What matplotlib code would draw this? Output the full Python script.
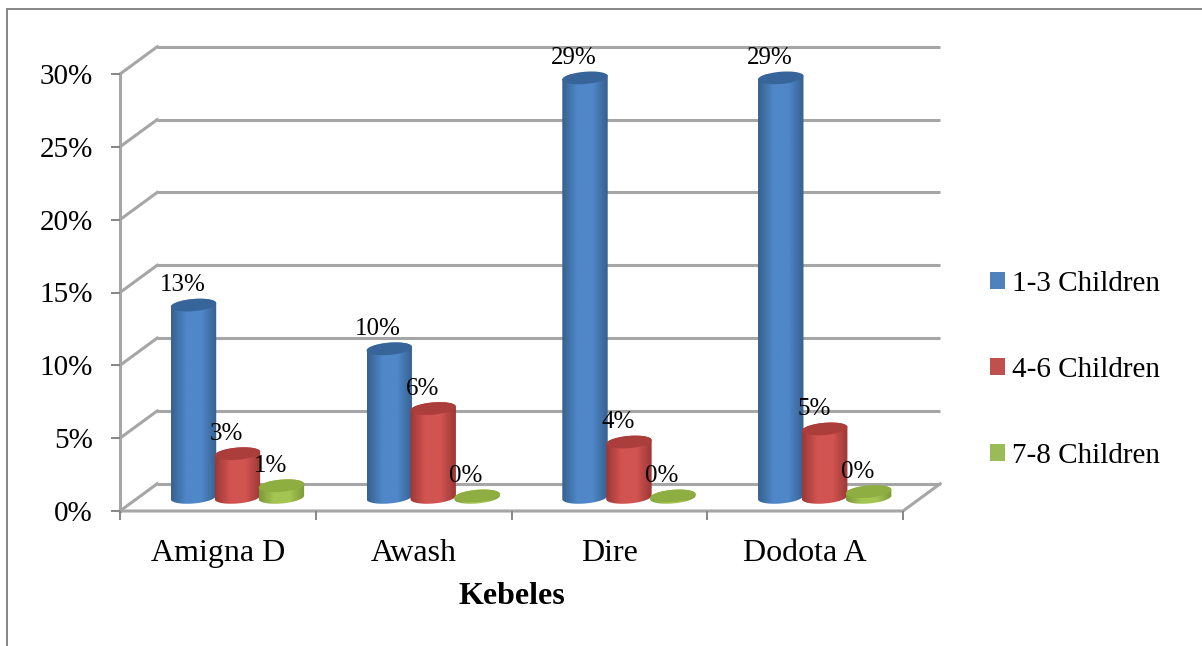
import numpy as np
import matplotlib
matplotlib.use("Agg")
import matplotlib.pyplot as plt
from matplotlib.colors import LinearSegmentedColormap
from matplotlib.patches import Patch, Polygon, Rectangle

plt.rcParams['font.family'] = ['Liberation Serif', 'DejaVu Serif']

categories = ['Amigna D', 'Awash', 'Dire', 'Dodota A']
series_names = ['1-3 Children', '4-6 Children', '7-8 Children']
children_1_3 = [13.2, 10.2, 28.8, 28.8]
children_4_6 = [3.0, 6.1, 3.8, 4.7]
children_7_8 = [0.8, 0.1, 0.1, 0.4]
y_ticks = [0, 5, 10, 15, 20, 25, 30]

# edge shade, middle shade, top cap, legend swatch
colors = [('#37618f', '#4f87c9', '#37659a', '#4f81bd'),
          ('#9c3836', '#d25451', '#ab3d3a', '#c0504d'),
          ('#7d9a38', '#a5c552', '#8fae42', '#9bbb59')]

W, H = 1202, 646
GRID = '#a6a6a6'

# 3D look: how far the back wall sits from the front plane, in data units
DEPTH_X = 0.19
DEPTH_Y = 1.87
BAR_SHIFT = 0.1
BAR_STEP = 0.2245
BAR_HALF = 0.116
CAP_Y = 0.42
CAP_TILT = 0.3


def cap_points(cx, y, start, stop, n=60):
    t = np.linspace(start, stop, n)
    px = cx + BAR_HALF * np.cos(t)
    py = y + CAP_Y * np.sin(t) + CAP_TILT * CAP_Y * np.cos(t)
    return np.column_stack([px, py])


def draw_cylinder(ax, cx, value, shades, z):
    edge, mid, top, _ = shades
    base_y = DEPTH_Y / 2
    top_y = base_y + value

    # side of the cylinder: top rim left to right, then round the bottom
    body = np.vstack([cap_points(cx, top_y, 0, np.pi),
                      cap_points(cx, base_y, np.pi, 2 * np.pi)])
    clip = Polygon(body, closed=True, transform=ax.transData, fc='none', ec='none')
    ax.add_patch(clip)
    cmap = LinearSegmentedColormap.from_list('side', [edge, mid, mid, edge])
    grad = np.linspace(0, 1, 64).reshape(1, -1)
    img = ax.imshow(grad, cmap=cmap, aspect='auto', zorder=z, interpolation='bilinear',
                    extent=(cx - BAR_HALF, cx + BAR_HALF, base_y - 1, top_y + 1))
    img.set_clip_path(clip)

    # the tallest caps reach past the top of the front plane
    ax.add_patch(Polygon(cap_points(cx, top_y, 0, 2 * np.pi), closed=True,
                         fc=top, ec='none', zorder=z + 0.1, clip_on=False))


fig = plt.figure(figsize=(W / 100, H / 100), dpi=100)

# outer chart frame
fig.add_artist(Rectangle((7 / W, -0.02), (W - 5) / W, 1 - 8.5 / H + 0.02,
                         transform=fig.transFigure, fc='none', ec='#868686', lw=1.4))

# axes box is the front plane of the chart
ax = fig.add_axes([120 / W, 1 - 511 / H, (903 - 120) / W, (511 - 74) / H])
ax.patch.set_alpha(0)
for s in ax.spines.values():
    s.set_visible(False)

x = np.arange(len(categories))
x0, x1 = -0.5, len(categories) - 0.5

# back wall gridlines and the slanted lines on the side wall
for t in y_ticks:
    ax.plot([x0 + DEPTH_X, x1 + DEPTH_X], [t + DEPTH_Y, t + DEPTH_Y], color=GRID, lw=2.2,
            zorder=1, clip_on=False, solid_capstyle='butt')
    ax.plot([x0, x0 + DEPTH_X], [t, t + DEPTH_Y], color=GRID, lw=2.2, zorder=1, clip_on=False)

# floor edges and front axes
ax.plot([x0, x1, x1 + DEPTH_X], [0, 0, DEPTH_Y], color=GRID, lw=2.2, zorder=1, clip_on=False)
ax.plot([x0, x0], [0, y_ticks[-1]], color=GRID, lw=2.2, zorder=1, clip_on=False)

ax.set_xticks(np.arange(len(categories) + 1) - 0.5)
ax.set_xticklabels([])
ax.set_xticks(x, categories, minor=True)
ax.tick_params(axis='x', which='major', length=6.5, width=1.4, color='#868686')
ax.tick_params(axis='x', which='minor', length=0, labelsize=23, pad=20.5)
ax.set_yticks(y_ticks, ['%d%%' % t for t in y_ticks])
ax.tick_params(axis='y', length=6.5, width=1.4, color='#868686', labelsize=21, pad=13)
ax.set_xlabel('Kebeles', fontsize=23, fontweight='bold', labelpad=10)

for i, values in enumerate([children_1_3, children_4_6, children_7_8]):
    for j, v in enumerate(values):
        cx = x[j] + BAR_SHIFT + (i - 1) * BAR_STEP
        draw_cylinder(ax, cx, v, colors[i], 3 + i)
        ax.annotate('%d%%' % round(v), (cx, v + DEPTH_Y / 2), xytext=(-11, 20),
                    textcoords='offset pixels', ha='center', va='center',
                    fontsize=18, zorder=10, annotation_clip=False)

ax.set_xlim(x0, x1)
ax.set_ylim(0, y_ticks[-1])

handles = [Patch(fc=c[3], ec='none') for c in colors]
fig.legend(handles, series_names, loc='center left', bbox_to_anchor=(990 / W, 1 - 370 / H),
           frameon=False, fontsize=21, labelspacing=2.05, handlelength=0.51,
           handleheight=0.51, handletextpad=0.25, borderpad=0, borderaxespad=0)

fig.savefig('out.png', dpi=100)
